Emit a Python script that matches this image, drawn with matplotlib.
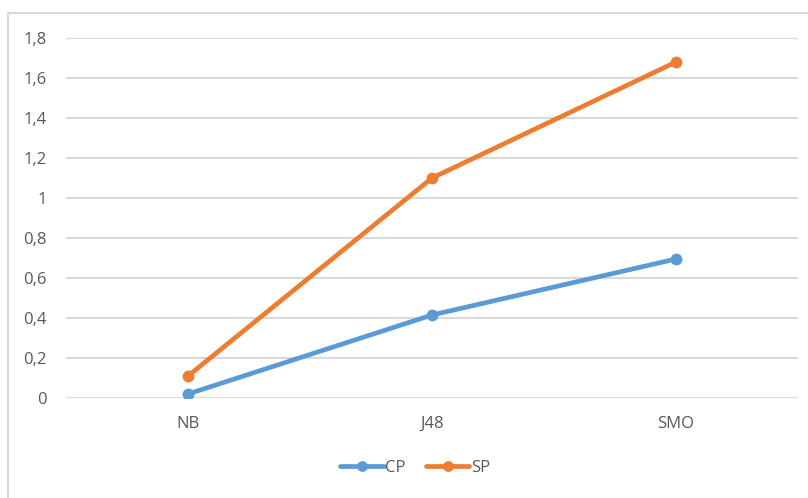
import matplotlib.pyplot as plt
from matplotlib.lines import Line2D

categories = ["NB", "J48", "SMO"]
cp = [0.02, 0.415, 0.695]
sp = [0.11, 1.10, 1.68]
yticks = [0, 0.2, 0.4, 0.6, 0.8, 1.0, 1.2, 1.4, 1.6, 1.8]

blue = "#5B9BD5"
orange = "#ED7D31"
grid = "#D9D9D9"
text = "#595959"

plt.rcParams["font.family"] = ["Open Sans", "DejaVu Sans"]

W, H = 808, 498
fig = plt.figure(figsize=(W / 100, H / 100), dpi=100)
ax = fig.add_axes([66 / W, 100 / H, 732 / W, 360 / H])

x = range(len(categories))
ax.plot(x, cp, color=blue, lw=3.4, marker="o", ms=7.5, label="CP", solid_capstyle="round")
ax.plot(x, sp, color=orange, lw=3.4, marker="o", ms=7.5, label="SP", solid_capstyle="round")

ax.set_xlim(-0.5, 2.5)
ax.set_ylim(0, 1.8)
ax.set_yticks(yticks)
ax.set_yticklabels([f"{v:g}".replace(".", ",") for v in yticks])
ax.set_xticks(list(x))
ax.set_xticklabels(categories)
ax.grid(axis="y", color=grid, lw=1.5)
ax.set_axisbelow(True)
for s in ax.spines.values():
    s.set_visible(False)
ax.tick_params(length=0, labelsize=12, colors=text)
ax.tick_params(axis="y", pad=14)
ax.tick_params(axis="x", pad=13)

ax.legend(loc="upper center", bbox_to_anchor=(0.477, -0.13), ncol=2, frameon=False,
          fontsize=12, labelcolor=text, handlelength=2.6, handletextpad=0.1,
          columnspacing=1.2, markerscale=0.9)

# chart frame (top and left edges)
fig.add_artist(Line2D([8 / W, 8 / W], [0, 1 - 13 / H], color=grid, lw=1.5))
fig.add_artist(Line2D([8 / W, 1], [1 - 13 / H, 1 - 13 / H], color=grid, lw=1.5))

fig.savefig("out.png", dpi=100)
